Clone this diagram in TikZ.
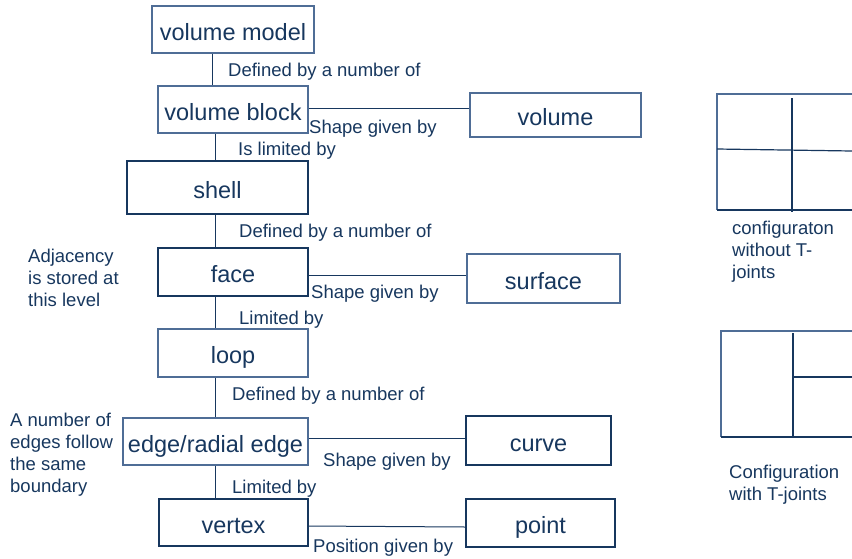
\documentclass[tikz,border=0pt]{standalone}
\usepackage{fontspec}
\setmainfont{Liberation Sans}
\usepackage{xcolor}
\usepackage{tikz}

\definecolor{navy}{HTML}{17375E}
\definecolor{steel}{HTML}{4F6D96}

\begin{document}
\begin{tikzpicture}[x=1pt,y=-1pt,
    entity/.style={draw=steel,line width=1.1pt,text=navy,inner sep=0pt,
      text height=21pt,text depth=0pt,
      font=\fontsize{23.5}{27}\selectfont},
    relation/.style={text=navy,inner sep=0pt,anchor=west,yshift=-2pt,
      font=\fontsize{18.5}{22}\selectfont},
    note/.style={text=navy,inner sep=0pt,anchor=west,align=left,
      font=\fontsize{18.5}{22}\selectfont},
    link/.style={navy,line width=1pt}]
  \useasboundingbox (0,0) rectangle (852,558);
  % Topology column
  \node[entity,minimum width=162pt,minimum height=47pt] (vmodel) at (233,29.5) {volume model};
  \node[entity,minimum width=150pt,minimum height=47pt] (vblock) at (233,109.5) {volume block};
  \node[entity,draw=navy,minimum width=181pt,minimum height=53pt] (shell) at (217.5,187.5) {shell};
  \node[entity,draw=navy,minimum width=150pt,minimum height=48pt] (face) at (233,272) {face};
  \node[entity,minimum width=150pt,minimum height=48pt] (loop) at (233,353) {loop};
  \node[entity,minimum width=185pt,minimum height=47pt] (edge) at (215.5,441.5) {edge/radial edge};
  \node[entity,draw=navy,minimum width=149pt,minimum height=47pt] (vertex) at (233.5,522.5) {vertex};
  % Geometry column
  \node[entity,minimum width=171pt,minimum height=44pt] (volume) at (555.5,115) {volume};
  \node[entity,minimum width=153pt,minimum height=49pt] (surface) at (543.5,278.5) {surface};
  \node[entity,draw=navy,minimum width=145pt,minimum height=49pt] (curve) at (538.5,440.5) {curve};
  \node[entity,draw=navy,minimum width=149pt,minimum height=48pt] (point) at (540.5,523) {point};

  % Vertical links
  \coordinate (spine) at (215,0);
  \draw[link] ([xshift=-21pt]vmodel.south) -- ([xshift=-21pt]vblock.north);
  \draw[link] (vblock.south -| spine) -- (shell.north -| spine);
  \draw[link] (shell.south -| spine) -- (face.north -| spine);
  \draw[link] (face.south -| spine) -- (loop.north -| spine);
  \draw[link] (loop.south -| spine) -- (edge.north -| spine);
  \draw[link] (edge.south -| spine) -- (vertex.north -| spine);
  % Links to geometry
  \draw[link] ([yshift=1.5pt]vblock.east) -- ([yshift=7pt]volume.west);
  \draw[link] ([yshift=-3pt]face.east) -- ([yshift=3.5pt]surface.west);
  \draw[link] ([yshift=3.5pt]edge.east) -- ([yshift=2.5pt]curve.west);
  \draw[link] ([yshift=-3.5pt]vertex.east) -- ([yshift=-4pt]point.west);

  % Relation labels
  \node[relation] (r1) at (228,70) {Defined by a number of};
  \node[relation] (r2) at (309,127) {Shape given by};
  \node[relation] (r3) at (238,149) {Is limited by};
  \node[relation] (r4) at (239,231) {Defined by a number of};
  \node[relation] (r5) at (311,292) {Shape given by};
  \node[relation] (r6) at (239,318) {Limited by};
  \node[relation] (r7) at (232,394) {Defined by a number of};
  \node[relation] (r8) at (323,460) {Shape given by};
  \node[relation] (r9) at (232,487) {Limited by};
  \node[relation] (r10) at (313,546) {Position given by};

  % Side notes
  \node[note] (adj) at (28,277.5) {Adjacency\\is stored at\\this level};
  \node[note] (bound) at (10,454.5) {A number of\\edges follow\\the same\\boundary};

  % Configuration without T-joints
  \draw[steel,line width=1.2pt] (852,94) -- (717,94) -- (717,210);
  \draw[navy,line width=1.2pt] (717,210) -- (852,210);
  \draw[navy,line width=1.2pt] (717,149) -- (852,151);
  \draw[navy,line width=2.2pt] (792,98) -- (792,212);
  \node[note] (cfg1) at (732,252) {configuraton\\without T-\\joints};
  % Configuration with T-joints
  \draw[steel,line width=1.2pt] (852,331) -- (721,331) -- (721,437);
  \draw[navy,line width=1.2pt] (721,437) -- (852,437);
  \draw[navy,line width=2.2pt] (793,333) -- (793,438);
  \draw[navy,line width=1.2pt] (793,377) -- (852,377);
  \node[note] (cfg2) at (729,484.5) {Configuration\\with T-joints};
\end{tikzpicture}
\end{document}
